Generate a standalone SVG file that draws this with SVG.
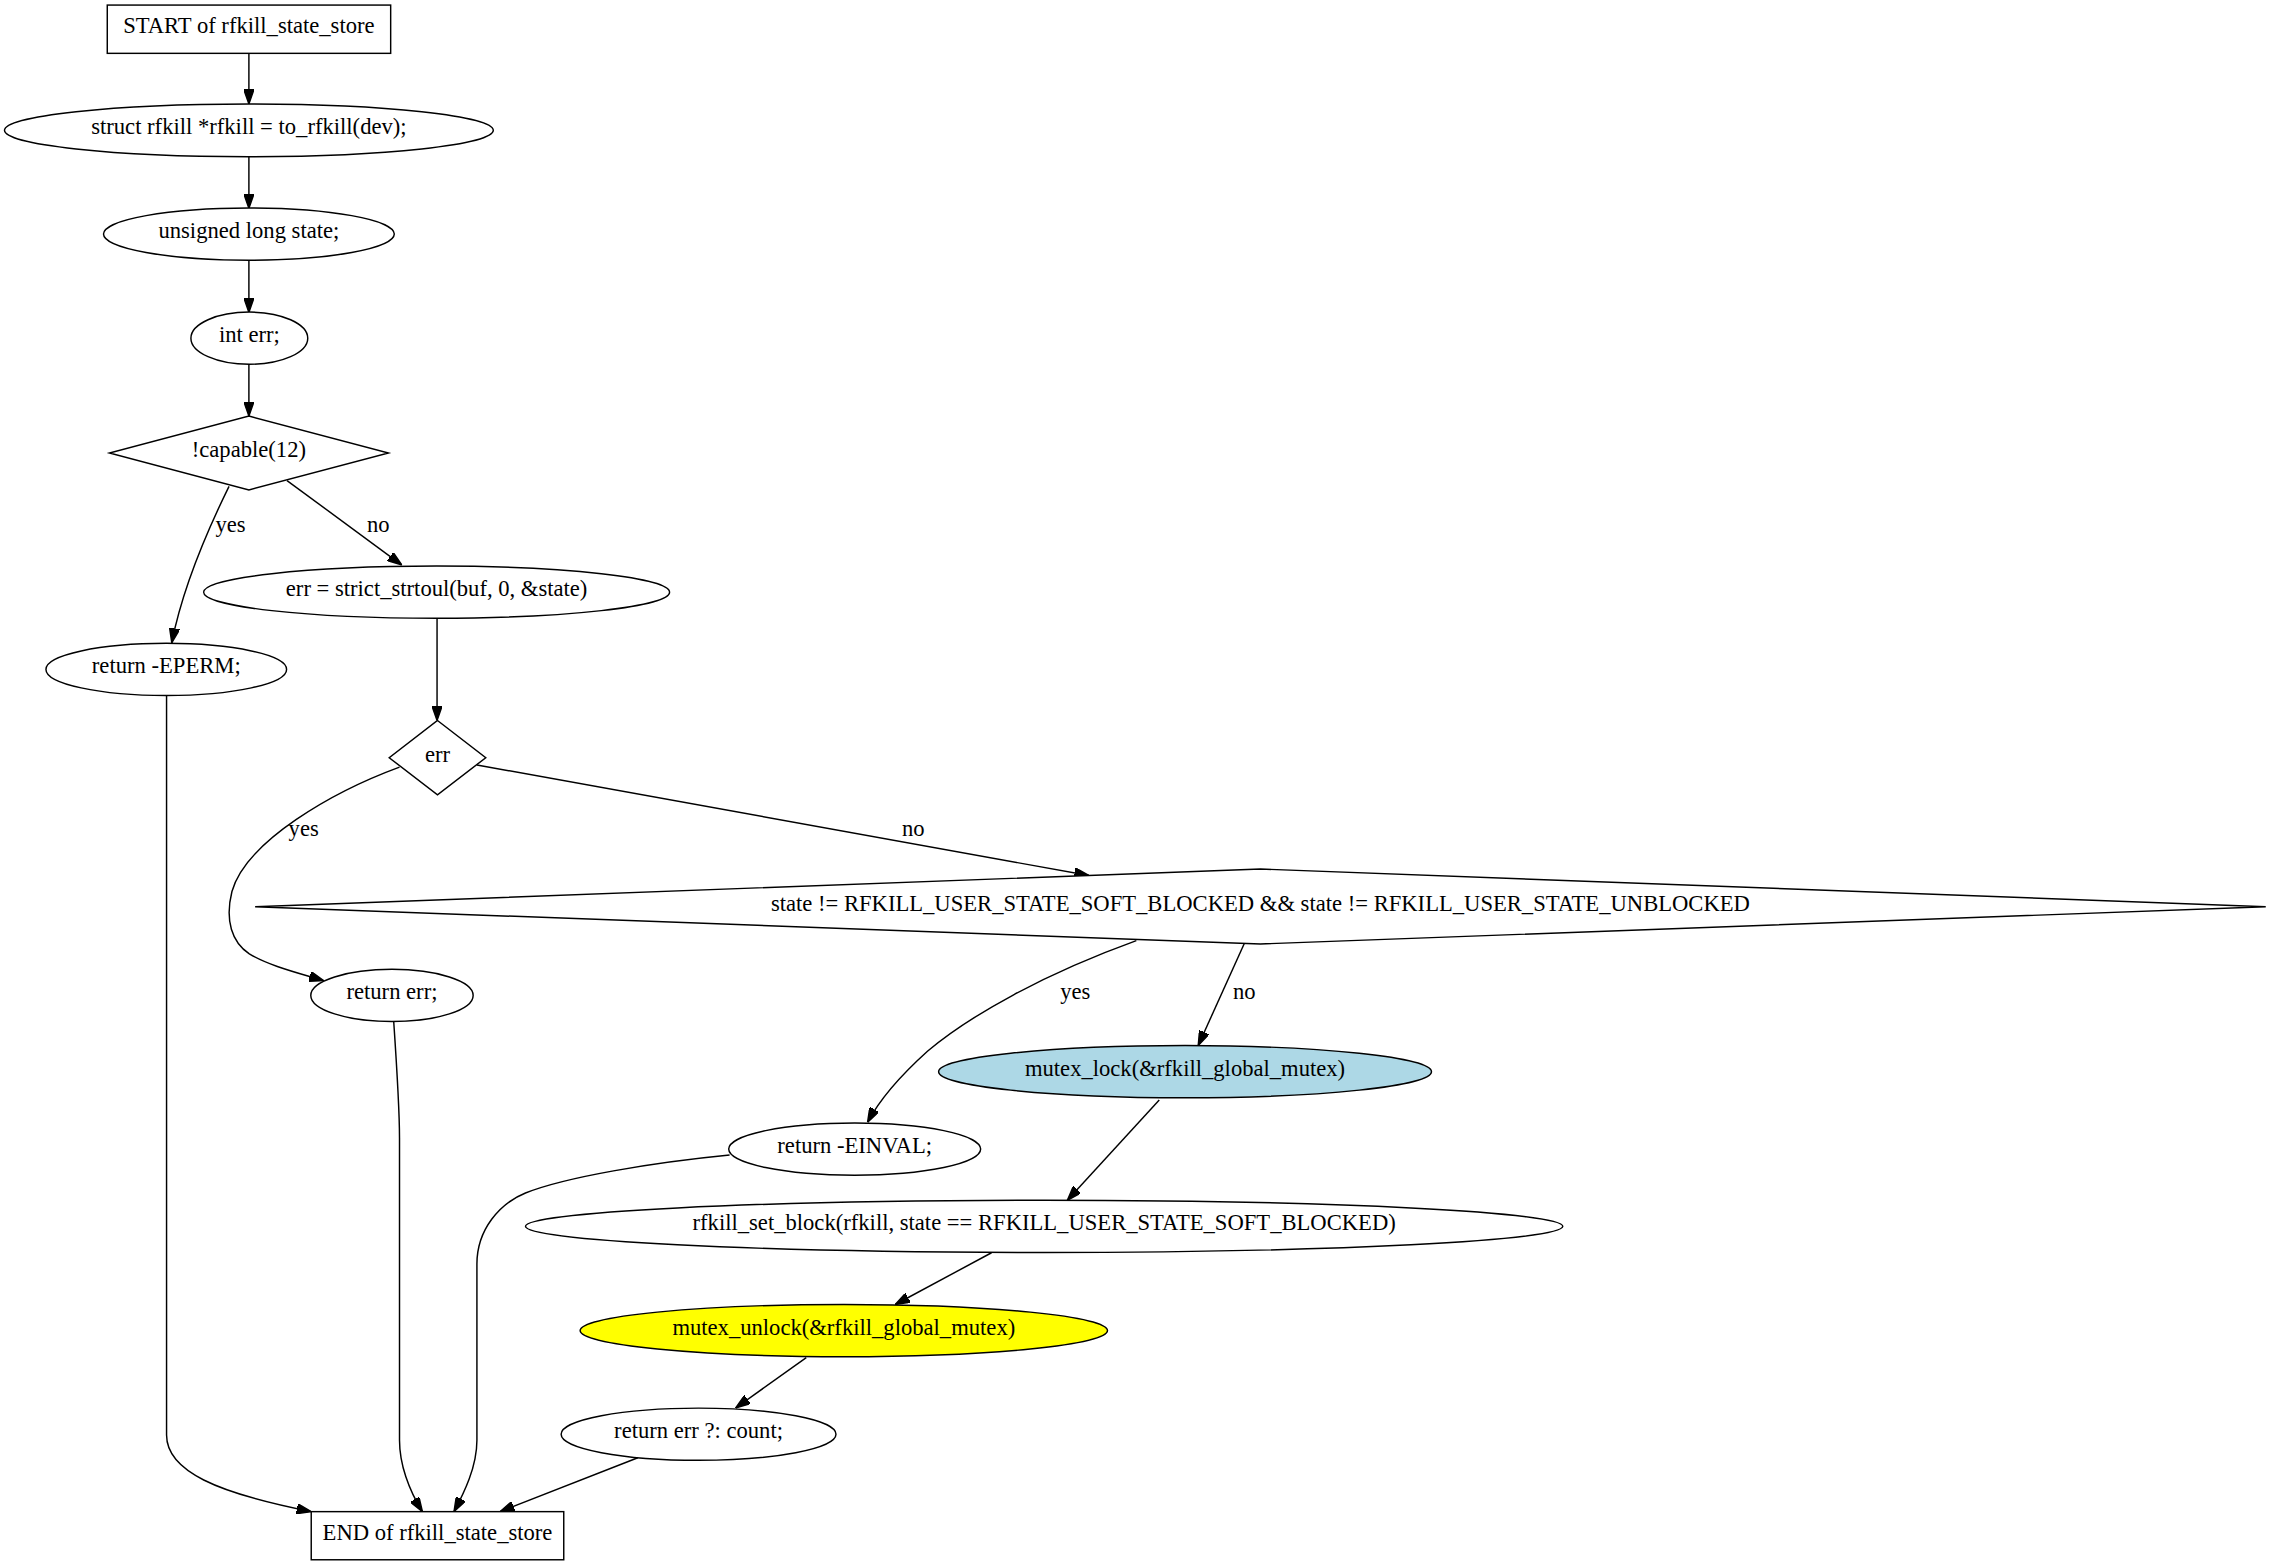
<svg xmlns="http://www.w3.org/2000/svg" width="2273" height="1565" viewBox="0 0 2273 1565">
<defs>
<style>
.n{fill:#ffffff;stroke:#000000;stroke-width:1}
.e{fill:none;stroke:#000000;stroke-width:1}
text{font-family:"Liberation Serif","Times New Roman",serif;font-size:15.6px;fill:#000000;text-anchor:middle}
</style>
<marker id="ah" viewBox="0 0 10 7" refX="10" refY="3.5" markerWidth="10" markerHeight="7" markerUnits="userSpaceOnUse" orient="auto">
<path d="M0,0 L10,3.5 L0,7 z" fill="#000000" stroke="#000000" stroke-width="1"/>
</marker>
</defs>
<rect x="0" y="0" width="2273" height="1565" fill="#ffffff"/>
<g transform="scale(1.4496)">
<g id="edges">
<path class="e" marker-end="url(#ah)" d="M171.7,36.8 L171.7,71.7"/>
<path class="e" marker-end="url(#ah)" d="M171.7,108.1 L171.7,143.7"/>
<path class="e" marker-end="url(#ah)" d="M171.7,179.4 L171.7,215.5"/>
<path class="e" marker-end="url(#ah)" d="M171.7,251.1 L171.7,287"/>
<path class="e" marker-end="url(#ah)" d="M158,335.5 C144,364 126,405 118.5,443.4"/>
<text x="159" y="367">yes</text>
<path class="e" marker-end="url(#ah)" d="M198,331.5 L277.2,389.8"/>
<text x="261" y="367">no</text>
<path class="e" marker-end="url(#ah)" d="M301.5,426.7 L301.5,497"/>
<path class="e" marker-end="url(#ah)" d="M114.9,480.1 L114.9,990 C114.9,1015 150,1030 214.7,1042.8"/>
<path class="e" marker-end="url(#ah)" d="M275.6,529.2 C230,546 170,580 160,615 C155,635 160,650 172,658 C185,666 205,671 223.3,676.5"/>
<text x="209.5" y="577">yes</text>
<path class="e" marker-end="url(#ah)" d="M329,527.7 L751.2,604"/>
<text x="630" y="577">no</text>
<path class="e" marker-end="url(#ah)" d="M271.6,704.7 C274,740 275.6,770 275.6,785 L275.6,993.5 C275.6,1010 282,1028 291.4,1042.8"/>
<path class="e" marker-end="url(#ah)" d="M783.9,648.9 C720,672 670,700 640,725 C620,743 606,760 598.5,774.2"/>
<text x="741.8" y="689">yes</text>
<path class="e" marker-end="url(#ah)" d="M858.3,651 L826.6,721.2"/>
<text x="858.3" y="689">no</text>
<path class="e" marker-end="url(#ah)" d="M503.3,796.8 C450,802 390,812 362.5,823 C345,830 329,848 329,872 L329,993.5 C329,1012 320,1030 313.2,1042.8"/>
<path class="e" marker-end="url(#ah)" d="M799.7,758.8 L736.3,828"/>
<path class="e" marker-end="url(#ah)" d="M684,864.2 L617.6,899.9"/>
<path class="e" marker-end="url(#ah)" d="M556.2,936.5 L507.5,971.3"/>
<path class="e" marker-end="url(#ah)" d="M440,1005.6 L344.9,1042.8"/>
</g>
<g id="start">
<rect class="n" x="74" y="3.5" width="195.5" height="33.3"/>
<text x="171.7" y="22.9">START of rfkill_state_store</text>
</g>
<g id="decl_rfkill">
<ellipse class="n" cx="171.7" cy="89.9" rx="168.6" ry="18.2"/>
<text x="171.7" y="92.6">struct rfkill *rfkill = to_rfkill(dev);</text>
</g>
<g id="decl_state">
<ellipse class="n" cx="171.7" cy="161.5" rx="100.3" ry="18"/>
<text x="171.7" y="164.2">unsigned long state;</text>
</g>
<g id="decl_err">
<ellipse class="n" cx="172" cy="233.3" rx="40.3" ry="18"/>
<text x="172" y="236">int err;</text>
</g>
<g id="cond_capable">
<polygon class="n" points="171.7,287 268,312.5 171.7,338 75.5,312.5"/>
<text x="171.7" y="315.2">!capable(12)</text>
</g>
<g id="strtoul">
<ellipse class="n" cx="301.2" cy="408.5" rx="160.7" ry="18"/>
<text x="301.2" y="411.2">err = strict_strtoul(buf, 0, &amp;state)</text>
</g>
<g id="ret_eperm">
<ellipse class="n" cx="114.7" cy="461.8" rx="83" ry="18"/>
<text x="114.7" y="464.5">return -EPERM;</text>
</g>
<g id="cond_err">
<polygon class="n" points="301.8,497 335.1,522.7 301.8,548.3 268.5,522.7"/>
<text x="301.8" y="525.4">err</text>
</g>
<g id="cond_state">
<polygon class="n" points="869.5,599.5 1563,625.5 869.5,651.2 176,625.5"/>
<text x="869.5" y="628.2">state != RFKILL_USER_STATE_SOFT_BLOCKED &amp;&amp; state != RFKILL_USER_STATE_UNBLOCKED</text>
</g>
<g id="ret_err">
<ellipse class="n" cx="270.4" cy="686.7" rx="56" ry="18"/>
<text x="270.4" y="689.4">return err;</text>
</g>
<g id="mutex_lock">
<ellipse class="n" cx="817.5" cy="739.3" rx="170" ry="18" style="fill:#add8e6"/>
<text x="817.5" y="742">mutex_lock(&amp;rfkill_global_mutex)</text>
</g>
<g id="ret_einval">
<ellipse class="n" cx="589.6" cy="792.7" rx="86.9" ry="18"/>
<text x="589.6" y="795.4">return -EINVAL;</text>
</g>
<g id="set_block">
<ellipse class="n" cx="720.3" cy="846" rx="357.8" ry="18"/>
<text x="720.3" y="848.7">rfkill_set_block(rfkill, state == RFKILL_USER_STATE_SOFT_BLOCKED)</text>
</g>
<g id="mutex_unlock">
<ellipse class="n" cx="582.1" cy="917.9" rx="181.9" ry="18" style="fill:#ffff00"/>
<text x="582.1" y="920.6">mutex_unlock(&amp;rfkill_global_mutex)</text>
</g>
<g id="ret_count">
<ellipse class="n" cx="481.9" cy="989.4" rx="94.8" ry="18"/>
<text x="481.9" y="992.1">return err ?: count;</text>
</g>
<g id="end">
<rect class="n" x="214.7" y="1042.8" width="174.2" height="33.2"/>
<text x="301.8" y="1062.1">END of rfkill_state_store</text>
</g>
</g>
</svg>
